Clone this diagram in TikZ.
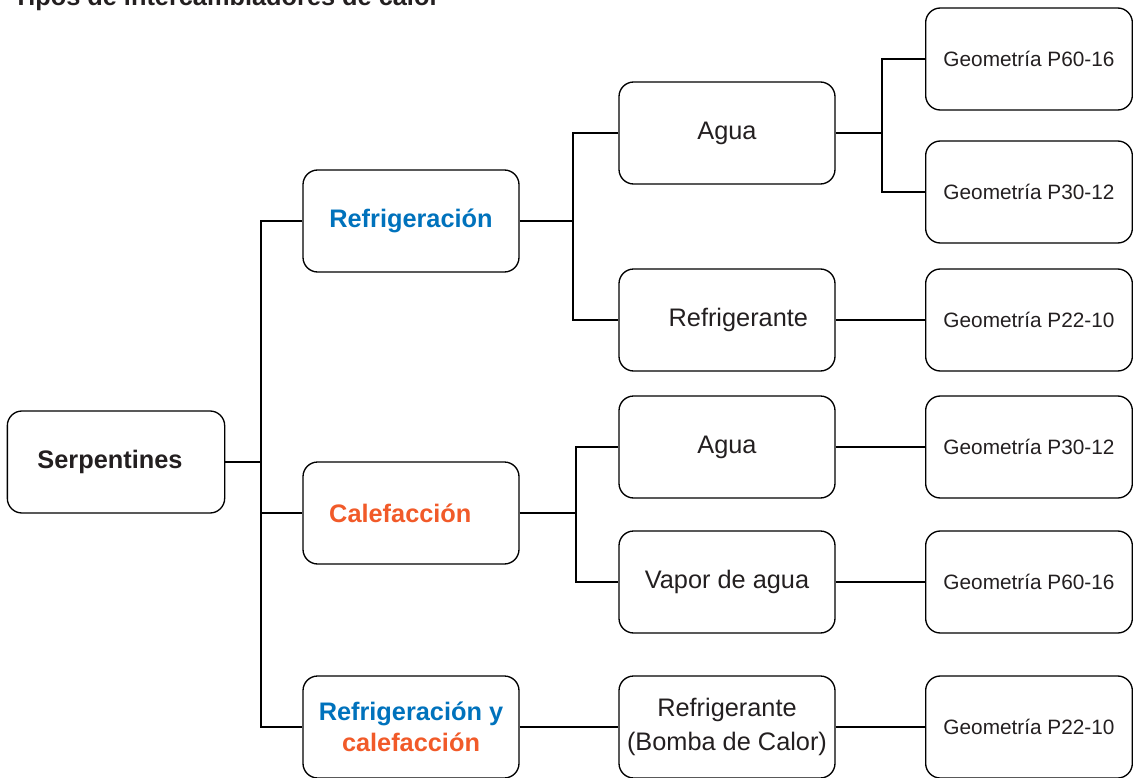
\documentclass[tikz,border=0pt]{standalone}
\usepackage{fontspec}
\setmainfont{Liberation Sans}
\usepackage{tikz}
\usetikzlibrary{calc}
\definecolor{refblue}{RGB}{0,114,188}
\definecolor{calred}{RGB}{241,90,41}
\definecolor{txtgray}{RGB}{35,31,32}
\tikzset{
    levelbox/.style={draw=black, line width=1pt, rounded corners=11pt, minimum width=162pt, minimum height=76.5pt, align=center, text=txtgray, inner sep=0pt, font=\fontsize{19}{24}\selectfont},
    boldbox/.style={levelbox, font=\fontsize{19}{23}\selectfont\bfseries},
    geobox/.style={levelbox, minimum width=155pt, font=\fontsize{15.6}{18}\selectfont},
    link/.style={draw=black, line width=1pt}
}
\newcommand{\offtext}[2]{\hspace*{#1}#2\hspace*{-#1}}

\begin{document}
\begin{tikzpicture}[x=0.75pt, y=-0.75pt]
            \clip (0,0) rectangle (1133,778);
            \useasboundingbox (0,0) rectangle (1133,778);
                % title
                \node [anchor=base west, inner sep=0pt, text=txtgray, font=\fontsize{19}{23}\selectfont\bfseries] (title) at (13,6) {Tipos de intercambiadores de calor};
                % boxes
                \node [boldbox, minimum width=163pt] (serp) at (116,462) {\offtext{-4.5pt}{Serpentines}};
                \node [boldbox] (refr) at (411,221) {\color{refblue}Refrigeración};
                \node [boldbox] (calef) at (411,513) {\offtext{-8pt}{\color{calred}Calefacción}};
                \node [boldbox] (ryc) at (411,727) {\color{refblue}Refrigeración y\\\color{calred}calefacción};
                \node [levelbox] (agua1) at (727,133) {Agua};
                \node [levelbox] (refrig1) at (727,320) {\offtext{8.5pt}{Refrigerante}};
                \node [levelbox] (agua2) at (727,447) {Agua};
                \node [levelbox] (vapor) at (727,582) {Vapor de agua};
                \node [levelbox, font=\fontsize{19}{25}\selectfont] (bomba) at (727,727) {Refrigerante\\(Bomba de Calor)};
                \node [geobox] (geo1) at (1029,59) {Geometría P60-16};
                \node [geobox] (geo2) at (1029,192) {Geometría P30-12};
                \node [geobox] (geo3) at (1029,320) {Geometría P22-10};
                \node [geobox] (geo4) at (1029,447) {Geometría P30-12};
                \node [geobox] (geo5) at (1029,582) {Geometría P60-16};
                \node [geobox] (geo6) at (1029,727) {Geometría P22-10};
                % branch points
                \coordinate (j0) at (261,462);
                \coordinate (j1) at (573,221);
                \coordinate (j2) at (576,513);
                \coordinate (j3) at (882,133);
                % tree
                \draw [link] (serp.east) -- (j0);
                \draw [link] (j0) |- (refr.west);
                \draw [link] (j0) |- (calef.west);
                \draw [link] (j0) |- (ryc.west);
                \draw [link] (refr.east) -- (j1);
                \draw [link] (j1) |- (agua1.west);
                \draw [link] (j1) |- (refrig1.west);
                \draw [link] (calef.east) -- (j2);
                \draw [link] (j2) |- (agua2.west);
                \draw [link] (j2) |- (vapor.west);
                \draw [link] (ryc.east) -- (bomba.west);
                \draw [link] (agua1.east) -- (j3);
                \draw [link] (j3) |- (geo1.west);
                \draw [link] (j3) |- (geo2.west);
                \draw [link] (refrig1.east) -- (geo3.west);
                \draw [link] (agua2.east) -- (geo4.west);
                \draw [link] (vapor.east) -- (geo5.west);
                \draw [link] (bomba.east) -- (geo6.west);
\end{tikzpicture}
\end{document}
